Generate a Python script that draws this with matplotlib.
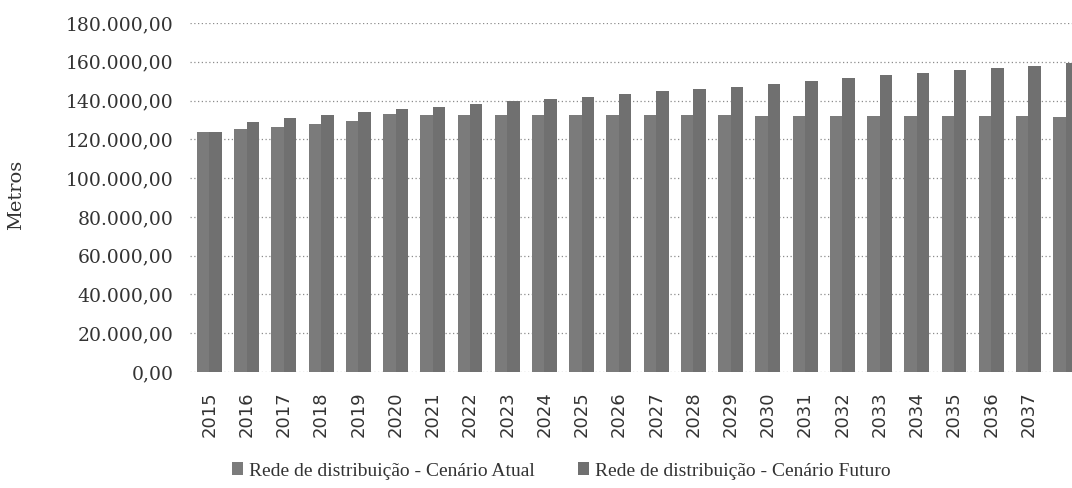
import numpy as np
import matplotlib
matplotlib.use("Agg")
import matplotlib.pyplot as plt

GRAY_ATUAL = "#7b7b7b"
GRAY_FUTURO = "#707070"
GRID = "#8c8c8c"
TEXT = "#333333"

years = [str(y) for y in range(2015, 2039)]
atual = [123900, 125100, 126600, 128000, 129200, 132900, 132600, 132500,
         132600, 132500, 132600, 132600, 132400, 132300, 132300, 132100,
         132200, 132200, 132100, 132000, 132000, 131900, 131800, 131700]
futuro = [124000, 129100, 131000, 132400, 134000, 135400, 136500, 138100,
          139600, 140900, 141900, 143300, 144700, 146200, 147200, 148500,
          150100, 151400, 153000, 154300, 155700, 157000, 158000, 159300]
series_names = ["Rede de distribuição - Cenário Atual",
                "Rede de distribuição - Cenário Futuro"]
yticks = list(range(0, 180001, 20000))
n_labelled = 23  # the 2038 label falls outside the cropped page


def br_fmt(v, _):
    s = f"{v:,.2f}"
    return s.replace(",", "X").replace(".", ",").replace("X", ".")


fig = plt.figure(figsize=(10.72, 4.88), dpi=100)
ax = fig.add_axes([190 / 1072, 1 - 372 / 488, 882 / 1072, 349 / 488])

x = np.arange(len(years))
w = 0.335
ax.bar(x - w / 2, atual, w, color=GRAY_ATUAL, label=series_names[0], zorder=3)
ax.bar(x + w / 2, futuro, w, color=GRAY_FUTURO, label=series_names[1], zorder=3)

ax.set_xlim(-0.52, 23.17)
ax.set_ylim(0, 180000)
ax.set_yticks(yticks)
ax.yaxis.set_major_formatter(br_fmt)
ax.set_xticks(x[:n_labelled])
ax.set_xticklabels(years[:n_labelled], rotation=90, fontsize=13,
                   family="DejaVu Sans", color=TEXT)
for lab in ax.get_yticklabels():
    lab.set_family("DejaVu Serif")
    lab.set_fontsize(13.5)
    lab.set_color(TEXT)
ax.tick_params(axis="both", length=0)
ax.tick_params(axis="y", pad=12)
ax.tick_params(axis="x", pad=14)

ax.grid(axis="y", linestyle=(0, (1, 2)), color=GRID, linewidth=0.9, zorder=0)
for s in ax.spines.values():
    s.set_visible(False)

ax.set_ylabel("Metros", fontsize=14, family="DejaVu Serif", color=TEXT)
ax.yaxis.set_label_coords(-0.187, 0.507)

fig.legend(loc="center left", bbox_to_anchor=(222 / 1072, 1 - 471 / 488),
           ncol=2, frameon=False,
           prop={"family": "Liberation Serif", "size": 14},
           handlelength=0.6, handleheight=0.6, handletextpad=0.3,
           columnspacing=2.2, borderpad=0, labelcolor=TEXT)

fig.savefig("out.png", dpi=100)
